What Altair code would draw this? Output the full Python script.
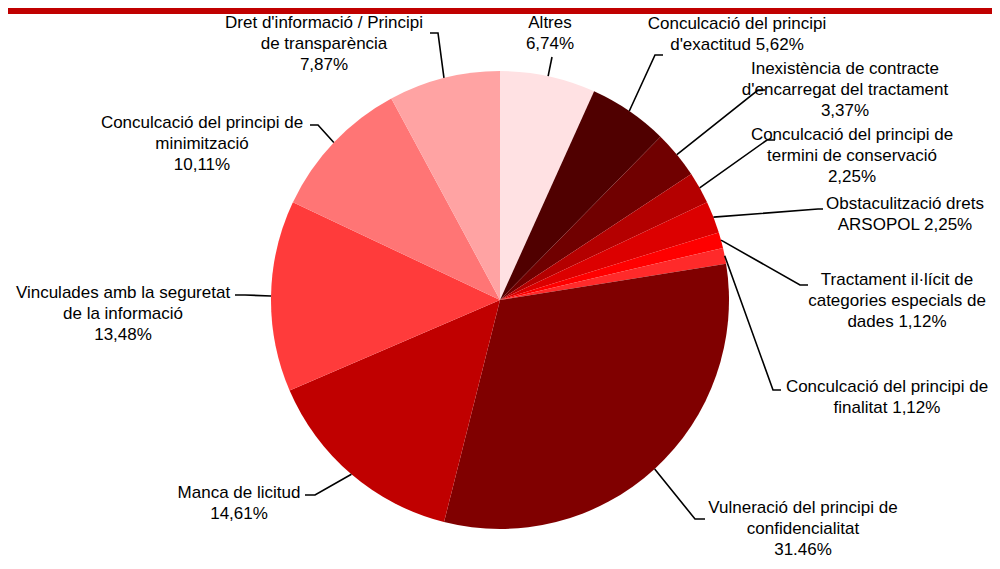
import math
import altair as alt
import pandas as pd

# ---- data (clockwise from 12 o'clock) ----
categories = [
    "Altres",
    "Conculcació del principi d'exactitud",
    "Inexistència de contracte d'encarregat del tractament",
    "Conculcació del principi de termini de conservació",
    "Obstaculització drets ARSOPOL",
    "Tractament il·lícit de categories especials de dades",
    "Conculcació del principi de finalitat",
    "Vulneració del principi de confidencialitat",
    "Manca de licitud",
    "Vinculades amb la seguretat de la informació",
    "Conculcació del principi de minimització",
    "Dret d'informació / Principi de transparència",
]
values = [6.74, 5.62, 3.37, 2.25, 2.25, 1.12, 1.12, 31.46, 14.61, 13.48, 10.11, 7.87]
label_texts = [
    "Altres\n6,74%",
    "Conculcació del principi\nd'exactitud 5,62%",
    "Inexistència de contracte\nd'encarregat del tractament\n3,37%",
    "Conculcació del principi de\ntermini de conservació\n2,25%",
    "Obstaculització drets\nARSOPOL 2,25%",
    "Tractament il·lícit de\ncategories especials de\ndades 1,12%",
    "Conculcació del principi de\nfinalitat 1,12%",
    "Vulneració del principi de\nconfidencialitat\n31.46%",
    "Manca de licitud\n14,61%",
    "Vinculades amb la seguretat\nde la informació\n13,48%",
    "Conculcació del principi de\nminimització\n10,11%",
    "Dret d'informació / Principi\nde transparència\n7,87%",
]

# ---- styles / layout ----
colors = ["#FFE1E3", "#500000", "#700000", "#B40000", "#DC0000", "#FF0000",
          "#FF2A2A", "#800000", "#C00000", "#FF3B3B", "#FF7575", "#FFA3A3"]
W, H = 984, 553
CX, CY, R = 492, 292, 229
label_pos = [(542, 20), (729, 21), (837, 66), (844, 132), (897, 201), (889, 277),
             (879, 384), (795, 505), (231, 490), (115, 290), (194, 120), (316, 20)]
elbows = [(544, 49), (647, 47), (750, 82), (759, 132), (810, 201), (792, 277),
          (765, 382), (687, 511), (307, 487), (237, 287), (310, 117), (430, 25)]
ends = [(544, 49), (655, 47), (757, 82), (767, 132), (815, 201), (800, 277),
        (773, 382), (697, 511), (297, 487), (227, 287), (302, 117), (422, 25)]

pie_df = pd.DataFrame({"cat": categories, "value": values,
                       "idx": list(range(len(values)))})

total = sum(values)
rows = []
cum = 0.0
for i, v in enumerate(values):
    mid = (cum + v / 2) / total * 2 * math.pi
    cum += v
    ex = CX + R * math.sin(mid)
    ey = CY - R * math.cos(mid)
    pts = [(ex, ey), elbows[i], ends[i]]
    for k, (px, py) in enumerate(pts):
        rows.append({"id": i, "k": k, "x": px, "y": py})
line_df = pd.DataFrame(rows)

text_df = pd.DataFrame({"label": label_texts,
                        "x": [p[0] for p in label_pos],
                        "y": [p[1] for p in label_pos]})

bar_df = pd.DataFrame({"a": [0]})

top_bar = alt.Chart(bar_df).mark_rect(color="#C00000").encode(
    x=alt.value(0), x2=alt.value(W), y=alt.value(0), y2=alt.value(6))

pie = alt.Chart(pie_df).mark_arc(outerRadius=R).encode(
    theta=alt.Theta("value:Q", stack=True),
    order=alt.Order("idx:Q"),
    color=alt.Color("cat:N", scale=alt.Scale(domain=categories, range=colors), legend=None),
    x=alt.value(CX), y=alt.value(CY),
)

leaders = alt.Chart(line_df).mark_line(color="black", strokeWidth=1.6).encode(
    x=alt.X("x:Q", scale=None, axis=None),
    y=alt.Y("y:Q", scale=None, axis=None),
    detail="id:N",
    order="k:Q",
)

texts = alt.Chart(text_df).mark_text(
    font="Liberation Sans", fontSize=17, lineBreak="\n", lineHeight=21,
    align="center", baseline="alphabetic", color="black",
).encode(
    x=alt.X("x:Q", scale=None, axis=None),
    y=alt.Y("y:Q", scale=None, axis=None),
    text="label:N",
)

chart = alt.layer(top_bar, pie, leaders, texts).properties(
    width=W, height=H, padding=0,
    autosize=alt.AutoSizeParams(type="fit", contains="padding"),
).configure_view(stroke=None)

chart.save("out.html", embed_options={"renderer": "svg", "actions": False})
